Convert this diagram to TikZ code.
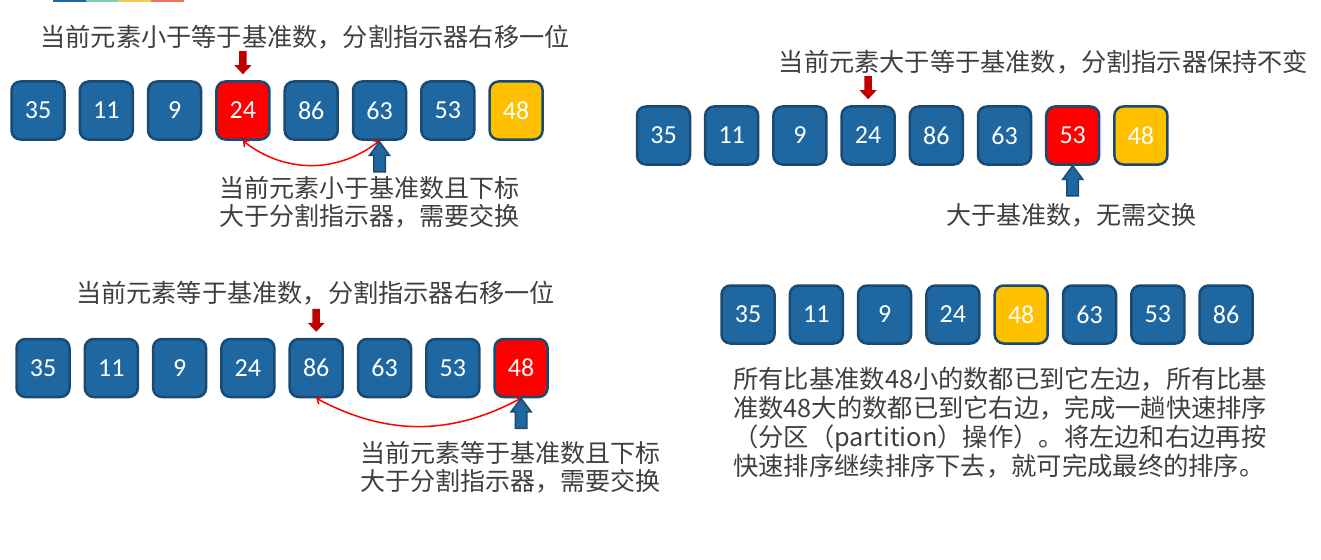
\documentclass[tikz,border=0pt]{standalone}
\usepackage{fontspec}
\setmainfont{Noto Sans CJK SC}
\newfontfamily\numfont{Carlito}
\usetikzlibrary{arrows.meta,calc}
\definecolor{boxblue}{HTML}{1F67A1}
\definecolor{boxedge}{HTML}{1A4A72}
\definecolor{pivot}{HTML}{FFC000}
\definecolor{hot}{HTML}{FF0000}
\definecolor{darkred}{HTML}{C00000}
\definecolor{txt}{HTML}{3F3F3F}
\definecolor{barA}{HTML}{1F67A1}
\definecolor{barB}{HTML}{7FCAC1}
\definecolor{barC}{HTML}{F6C75B}
\definecolor{barD}{HTML}{F07264}
\tikzset{
  numbox/.style={draw=boxedge, line width=2.5pt, rounded corners=9pt, fill=#1,
    minimum width=53pt, minimum height=58pt, inner sep=0pt, text=white,
    font=\numfont\fontsize{26}{26}\selectfont},
  numbox/.default=boxblue,
  title/.style={text=txt, font=\fontsize{25.2}{30}\selectfont, inner sep=0pt},
  label/.style={text=txt, font=\fontsize{25}{28}\selectfont, inner sep=0pt, align=left},
  swapcurve/.style={draw=hot, line width=1.5pt, {Straight Barb[length=4pt,width=8pt]}-{Straight Barb[length=4pt,width=8pt]}},
  redarrow/.pic={\fill[darkred] (-3.75,-23) -- (3.75,-23) -- (3.75,-9) -- (8.5,-9) -- (0,0) -- (-8.5,-9) -- (-3.75,-9) -- cycle;},
  bluearrow/.pic={\filldraw[fill=boxblue, draw=boxedge, line width=1.5pt, line join=miter] (0,0) -- (10,13.5) -- (5.75,13.5) -- (5.75,30) -- (-5.75,30) -- (-5.75,13.5) -- (-10,13.5) -- cycle;}
}
\begin{document}
\begin{tikzpicture}[x=1pt,y=-1pt]
\useasboundingbox (0,0) rectangle (1321,559);
% top strip
\fill[barA] (53,0) rectangle (86,2.5);
\fill[barB] (86,0) rectangle (118,2.5);
\fill[barC] (118,0) rectangle (151,2.5);
\fill[barD] (151,0) rectangle (184,2.5);

% ---------- top-left ----------
\node[title] (t1) at (305,37) {当前元素小于等于基准数，分割指示器右移一位};
\foreach \v/\c [count=\i] in {35/boxblue,11/boxblue,9/boxblue,24/hot,86/boxblue,63/boxblue,53/boxblue,48/pivot}
  \node[numbox=\c] (a\i) at ({38+68.3*(\i-1)},110.5) {\v};
\pic at ($(a4.north)+(0,-6)$) {redarrow};
\draw[swapcurve] (a4.south) to[bend right=38] (a6.south);
\pic at ($(a6.south)+(0,1)$) {bluearrow};
\node[label, anchor=north west] (l1) at (219,176) {当前元素小于基准数且下标\\大于分割指示器，需要交换};

% ---------- top-right ----------
\node[title] (t2) at (1043.5,62) {当前元素大于等于基准数，分割指示器保持不变};
\foreach \v/\c [count=\i] in {35/boxblue,11/boxblue,9/boxblue,24/boxblue,86/boxblue,63/boxblue,53/hot,48/pivot}
  \node[numbox=\c] (b\i) at ({663.5+68.2*(\i-1)},135.5) {\v};
\pic at ($(b4.north)+(0,-6)$) {redarrow};
\pic at ($(b7.south)+(0,0)$) {bluearrow};
\node[label] (l2) at (1071,215) {大于基准数，无需交换};

% ---------- bottom-left ----------
\node[title] (t3) at (315.5,293) {当前元素等于基准数，分割指示器右移一位};
\foreach \v/\c [count=\i] in {35/boxblue,11/boxblue,9/boxblue,24/boxblue,86/boxblue,63/boxblue,53/boxblue,48/hot}
  \node[numbox=\c] (c\i) at ({43+68.3*(\i-1)},368) {\v};
\pic at ($(c5.north)+(0,-6)$) {redarrow};
\draw[swapcurve] (c5.south) to[bend right=28] (c8.south);
\pic at ($(c8.south)+(0,0)$) {bluearrow};
\node[label, anchor=north west] (l3) at (360,441) {当前元素等于基准数且下标\\大于分割指示器，需要交换};

% ---------- bottom-right ----------
\foreach \v/\c [count=\i] in {35/boxblue,11/boxblue,9/boxblue,24/boxblue,48/pivot,63/boxblue,53/boxblue,86/boxblue}
  \node[numbox=\c] (d\i) at ({748+68.3*(\i-1)},314.5) {\v};
\node[label, anchor=north west, font=\fontsize{25.3}{29}\selectfont] (p) at (733,367)
  {所有比基准数48小的数都已到它左边，所有比基\\准数48大的数都已到它右边，完成一趟快速排序\\（分区（partition）操作）。将左边和右边再按\\快速排序继续排序下去，就可完成最终的排序。};
\end{tikzpicture}
\end{document}
